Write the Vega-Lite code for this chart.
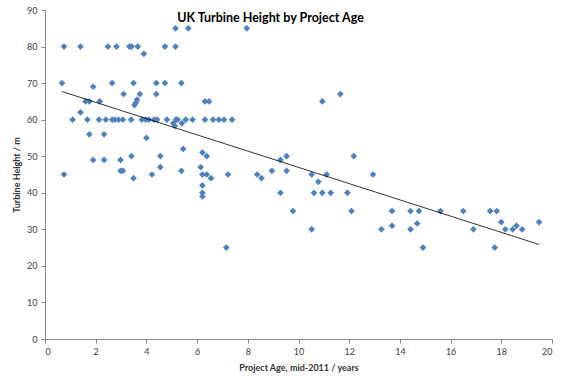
{
  "$schema": "https://vega.github.io/schema/vega-lite/v6.json",
  "width": 507,
  "height": 329,
  "autosize": "none",
  "padding": {"left": 45, "top": 10, "right": 16, "bottom": 45},
  "background": "white",
  "title": {"text": "UK Turbine Height by Project Age", "font": "Lato", "fontSize": 12.5, "fontWeight": "bold", "color": "#000000", "anchor": "middle", "frame": "group", "offset": 0, "dy": 18, "dx": -28},
  "config": {
    "view": {"stroke": null},
    "axis": {"grid": false, "domainColor": "#868686", "tickColor": "#868686", "tickSize": 4, "labelFont": "Lato", "labelFontSize": 9, "labelColor": "#404040", "labelOverlap": false, "titleFont": "Lato", "titleFontSize": 9, "titleFontWeight": "bold", "titleColor": "#333333"}
  },
  "data": {"values": [
    {"age": 0.75, "height": 80}, {"age": 1.4, "height": 80}, {"age": 2.48, "height": 80}, {"age": 2.82, "height": 80}, {"age": 3.33, "height": 80}, {"age": 3.42, "height": 80}, {"age": 3.66, "height": 80}, {"age": 3.9, "height": 78}, {"age": 4.73, "height": 80}, {"age": 5.15, "height": 80}, {"age": 5.15, "height": 85}, {"age": 5.65, "height": 85}, {"age": 7.96, "height": 85},
    {"age": 0.67, "height": 70}, {"age": 2.65, "height": 70}, {"age": 3.49, "height": 70}, {"age": 4.39, "height": 70}, {"age": 4.73, "height": 70}, {"age": 5.38, "height": 70}, {"age": 1.9, "height": 69},
    {"age": 3.1, "height": 67}, {"age": 3.74, "height": 67}, {"age": 4.39, "height": 67}, {"age": 1.6, "height": 65}, {"age": 1.75, "height": 65}, {"age": 2.16, "height": 65}, {"age": 3.63, "height": 65.5}, {"age": 3.58, "height": 64.6}, {"age": 3.53, "height": 64}, {"age": 6.31, "height": 65}, {"age": 6.47, "height": 65}, {"age": 10.94, "height": 65}, {"age": 11.65, "height": 67}, {"age": 1.4, "height": 62},
    {"age": 1.09, "height": 60}, {"age": 1.67, "height": 60}, {"age": 2.13, "height": 60}, {"age": 2.4, "height": 60}, {"age": 2.65, "height": 60}, {"age": 2.75, "height": 60}, {"age": 2.9, "height": 60}, {"age": 3.07, "height": 60}, {"age": 3.4, "height": 60}, {"age": 3.82, "height": 60}, {"age": 3.97, "height": 60}, {"age": 4.1, "height": 60}, {"age": 4.3, "height": 60}, {"age": 4.42, "height": 60}, {"age": 4.81, "height": 60},
    {"age": 5.06, "height": 59}, {"age": 5.12, "height": 58.3}, {"age": 5.16, "height": 60}, {"age": 5.23, "height": 60}, {"age": 5.4, "height": 59},
    {"age": 5.55, "height": 60}, {"age": 5.82, "height": 60}, {"age": 6.31, "height": 60}, {"age": 6.63, "height": 60}, {"age": 6.86, "height": 60}, {"age": 7.06, "height": 60}, {"age": 7.38, "height": 60},
    {"age": 1.75, "height": 56}, {"age": 2.33, "height": 56}, {"age": 4.0, "height": 55}, {"age": 5.45, "height": 52}, {"age": 6.21, "height": 51}, {"age": 6.38, "height": 50}, {"age": 1.9, "height": 49}, {"age": 2.33, "height": 49}, {"age": 2.98, "height": 49}, {"age": 3.41, "height": 50}, {"age": 4.55, "height": 50}, {"age": 9.29, "height": 49}, {"age": 9.53, "height": 50}, {"age": 12.18, "height": 50},
    {"age": 2.98, "height": 46}, {"age": 3.07, "height": 46}, {"age": 4.55, "height": 47}, {"age": 3.49, "height": 44}, {"age": 4.22, "height": 45}, {"age": 0.75, "height": 45}, {"age": 5.38, "height": 46}, {"age": 6.14, "height": 47}, {"age": 6.21, "height": 45}, {"age": 6.38, "height": 45}, {"age": 6.55, "height": 44}, {"age": 7.22, "height": 45}, {"age": 8.37, "height": 45}, {"age": 8.54, "height": 44}, {"age": 8.95, "height": 46}, {"age": 9.53, "height": 46}, {"age": 10.52, "height": 45}, {"age": 11.11, "height": 45}, {"age": 10.78, "height": 43}, {"age": 12.94, "height": 45},
    {"age": 6.21, "height": 42}, {"age": 6.21, "height": 40}, {"age": 6.21, "height": 39}, {"age": 9.29, "height": 40}, {"age": 10.61, "height": 40}, {"age": 10.94, "height": 40}, {"age": 11.27, "height": 40}, {"age": 11.93, "height": 40},
    {"age": 9.78, "height": 35}, {"age": 12.09, "height": 35}, {"age": 13.69, "height": 35}, {"age": 14.42, "height": 35}, {"age": 14.75, "height": 35}, {"age": 15.6, "height": 35}, {"age": 16.5, "height": 35}, {"age": 17.56, "height": 35}, {"age": 17.82, "height": 35},
    {"age": 10.52, "height": 30}, {"age": 13.27, "height": 30}, {"age": 13.69, "height": 31}, {"age": 14.42, "height": 30}, {"age": 14.68, "height": 31.6}, {"age": 16.9, "height": 30}, {"age": 18.0, "height": 32}, {"age": 18.16, "height": 30}, {"age": 18.45, "height": 30}, {"age": 18.6, "height": 31}, {"age": 18.82, "height": 30}, {"age": 19.49, "height": 32},
    {"age": 7.15, "height": 25}, {"age": 14.91, "height": 25}, {"age": 17.74, "height": 25}
  ]},
  "encoding": {
    "x": {"field": "age", "type": "quantitative", "scale": {"domain": [0, 20], "nice": false}, "axis": {"values": [0, 2, 4, 6, 8, 10, 12, 14, 16, 18, 20], "title": "Project Age, mid-2011 / years", "labelPadding": 4, "titlePadding": 7}},
    "y": {"field": "height", "type": "quantitative", "scale": {"domain": [0, 90], "nice": false}, "axis": {"values": [0, 10, 20, 30, 40, 50, 60, 70, 80, 90], "title": "Turbine Height / m", "labelPadding": 4, "titlePadding": 5}}
  },
  "layer": [
    {
      "mark": {"type": "point", "shape": "diamond", "filled": true, "size": 45, "color": "#4F81BD", "opacity": 1}
    },
    {
      "transform": [{"regression": "height", "on": "age"}],
      "mark": {"type": "line", "color": "#000000", "strokeWidth": 0.8}
    }
  ]
}
